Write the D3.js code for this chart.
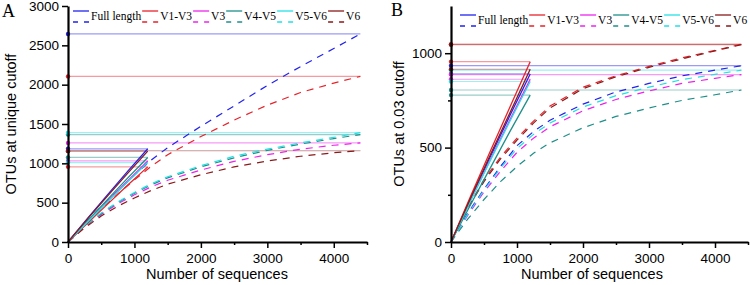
<!DOCTYPE html>
<html>
<head>
<meta charset="utf-8">
<script src="https://cdn.jsdelivr.net/npm/d3@7"></script>
<style>
  body { margin: 0; background: #fff; }
  svg { display: block; }
</style>
</head>
<body>
<script>
// series shown in both panels
let seriesNames = ["Full length", "V1-V3", "V3", "V4-V5", "V5-V6", "V6"];
let seriesColors = ["#2222ee", "#e8222a", "#ee22ee", "#1f8f8a", "#22e0e6", "#8a1a1a"];

// sequences sampled for the observed (solid) curves and the extrapolated (dashed) ones
let obsX = [0, 300, 600, 900, 1200];
let extX = [0, 250, 500, 750, 1000, 1250, 1500, 2000, 2500, 3000, 3500, 4000, 4400];

// panel A: OTUs at unique cutoff
let obsA = [
  [0, 305, 605, 900, 1185],
  [0, 245, 485, 725, 955],
  [0, 265, 525, 780, 1030],
  [0, 275, 545, 815, 1075],
  [0, 260, 515, 765, 1010],
  [0, 300, 590, 875, 1155]
];
let extA = [
  [0, 230, 450, 650, 850, 1040, 1200, 1470, 1730, 1990, 2230, 2460, 2645],
  [0, 220, 420, 610, 790, 960, 1110, 1340, 1550, 1740, 1900, 2020, 2105],
  [0, 190, 350, 485, 600, 700, 785, 915, 1025, 1110, 1180, 1230, 1260],
  [0, 195, 360, 500, 620, 725, 815, 955, 1070, 1165, 1245, 1315, 1365],
  [0, 200, 370, 510, 630, 740, 830, 970, 1090, 1180, 1260, 1330, 1390],
  [0, 180, 330, 455, 560, 655, 735, 855, 955, 1030, 1090, 1135, 1160]
];

// panel B: OTUs at 0.03 cutoff
let obsB = [
  [0, 230, 455, 675, 890],
  [0, 245, 485, 720, 955],
  [0, 222, 440, 652, 862],
  [0, 200, 395, 590, 778],
  [0, 220, 435, 645, 850],
  [0, 235, 465, 690, 915]
];
let extB = [
  [0, 150, 280, 400, 510, 585, 645, 730, 795, 840, 880, 910, 934],
  [0, 180, 330, 450, 550, 640, 720, 820, 880, 930, 975, 1015, 1048],
  [0, 140, 265, 375, 475, 550, 610, 695, 755, 800, 840, 867, 887],
  [0, 120, 225, 320, 400, 470, 525, 605, 665, 710, 750, 780, 805],
  [0, 145, 275, 390, 495, 570, 630, 715, 775, 820, 860, 888, 910],
  [0, 175, 320, 440, 540, 630, 710, 812, 875, 925, 970, 1012, 1045]
];

let xTicks = [0, 1000, 2000, 3000, 4000];
let xMinor = [500, 1500, 2500, 3500, 4500];
let yTicksA = [0, 500, 1000, 1500, 2000, 2500, 3000];
let yTicksB = [0, 500, 1000];
let yMinorB = [250, 750];

let width = 750;
let height = 285;

let svg = d3.select("body").append("svg")
  .attr("width", width)
  .attr("height", height);

let sans = "Arial, 'Liberation Sans', sans-serif";
let serif = "'Times New Roman', 'Liberation Serif', serif";

function drawPanel(p) {
  let x = d3.scaleLinear().domain([0, 4500]).range([p.left, p.right]);
  let y = d3.scaleLinear().domain([0, p.yMax]).range([242, 6]);
  let g = svg.append("g");

  let line = d3.line()
    .x(d => x(d[0]))
    .y(d => y(d[1]));

  seriesNames.forEach((name, i) => {
    let obs = p.obs[i], ext = p.ext[i];
    let c = seriesColors[i];
    // level lines: end of observed curve, and the extrapolated plateau
    g.append("line")
      .attr("x1", x(0)).attr("x2", x(obsX[obsX.length - 1]))
      .attr("y1", y(obs[obs.length - 1])).attr("y2", y(obs[obs.length - 1]))
      .attr("stroke", c).attr("stroke-opacity", 0.45).attr("stroke-width", 1.2);
    g.append("line")
      .attr("x1", x(0)).attr("x2", x(extX[extX.length - 1]))
      .attr("y1", y(ext[ext.length - 1])).attr("y2", y(ext[ext.length - 1]))
      .attr("stroke", c).attr("stroke-opacity", 0.45).attr("stroke-width", 1.2);
  });

  seriesNames.forEach((name, i) => {
    g.append("path")
      .attr("d", line(extX.map((v, j) => [v, p.ext[i][j]])))
      .attr("fill", "none")
      .attr("stroke", seriesColors[i])
      .attr("stroke-width", 1.2)
      .attr("stroke-dasharray", "7,6");
  });

  seriesNames.forEach((name, i) => {
    g.append("path")
      .attr("d", line(obsX.map((v, j) => [v, p.obs[i][j]])))
      .attr("fill", "none")
      .attr("stroke", seriesColors[i])
      .attr("stroke-width", 1.3);
  });

  seriesNames.forEach((name, i) => {
    let lv = [p.obs[i][obsX.length - 1], p.ext[i][extX.length - 1]];
    lv.forEach(v => {
      g.append("circle")
        .attr("cx", x(0)).attr("cy", y(v)).attr("r", 2.2)
        .attr("fill", seriesColors[i]);
    });
  });

  // axes
  g.append("g")
    .attr("transform", "translate(0,242)")
    .call(d3.axisBottom(x).tickValues(xTicks).tickFormat(d3.format("d"))
      .tickSize(6).tickSizeOuter(0).tickPadding(5));
  g.append("g")
    .attr("transform", "translate(0,242)")
    .call(d3.axisBottom(x).tickValues(xMinor).tickSize(3).tickFormat("").tickSizeOuter(0))
    .select(".domain").remove();

  g.append("g")
    .attr("transform", "translate(" + p.left + ",0)")
    .call(d3.axisLeft(y).tickValues(p.yTicks).tickFormat(d3.format("d"))
      .tickSize(6).tickSizeOuter(0).tickPadding(3));
  if (p.yMinor.length) {
    g.append("g")
      .attr("transform", "translate(" + p.left + ",0)")
      .call(d3.axisLeft(y).tickValues(p.yMinor).tickSize(3).tickFormat("").tickSizeOuter(0))
      .select(".domain").remove();
  }

  g.selectAll(".domain").attr("stroke-width", 2.2).attr("stroke", "#000");
  g.selectAll(".tick line").attr("stroke-width", 1.5);
  g.selectAll(".tick text")
    .attr("font-family", sans)
    .attr("font-size", 13.5)
    .attr("fill", "#000");

  g.append("text")
    .attr("x", p.xTitleX).attr("y", 279)
    .attr("text-anchor", "middle")
    .attr("font-family", sans).attr("font-size", 14.5)
    .text("Number of sequences");

  g.append("text")
    .attr("transform", "translate(" + p.yTitleX + ",124) rotate(-90)")
    .attr("text-anchor", "middle")
    .attr("dy", "0.35em")
    .attr("font-family", sans).attr("font-size", 14.5)
    .text(p.yTitle);

  g.append("text")
    .attr("x", p.letterX).attr("y", p.letterY)
    .attr("font-family", serif).attr("font-size", 18)
    .text(p.letter);

  // legend: solid over dashed swatch, then label
  let lx = p.legendX;
  let ly = p.legendY;
  seriesNames.forEach((name, i) => {
    g.append("line")
      .attr("x1", lx).attr("x2", lx + 16)
      .attr("y1", ly).attr("y2", ly)
      .attr("stroke", seriesColors[i]).attr("stroke-width", 1.3);
    g.append("line")
      .attr("x1", lx).attr("x2", lx + 16)
      .attr("y1", ly + 11).attr("y2", ly + 11)
      .attr("stroke", seriesColors[i]).attr("stroke-width", 1.3)
      .attr("stroke-dasharray", "5,6");
    let t = g.append("text")
      .attr("x", lx + 18).attr("y", ly + 9)
      .attr("font-family", serif).attr("font-size", 11.5)
      .text(name);
    lx += 18 + t.node().getComputedTextLength() + 1;
  });
}

drawPanel({
  left: 68, right: 367, yMax: 3000,
  yTicks: yTicksA, yMinor: [],
  obs: obsA, ext: extA,
  xTitleX: 217, yTitleX: 11,
  yTitle: "OTUs at unique cutoff",
  letter: "A", letterX: 2, letterY: 17,
  legendX: 73, legendY: 11
});

drawPanel({
  left: 451, right: 748, yMax: 1250,
  yTicks: yTicksB, yMinor: yMinorB,
  obs: obsB, ext: extB,
  xTitleX: 592, yTitleX: 399,
  yTitle: "OTUs at 0.03 cutoff",
  letter: "B", letterX: 391, letterY: 16,
  legendX: 460, legendY: 15
});
</script>
</body>
</html>
